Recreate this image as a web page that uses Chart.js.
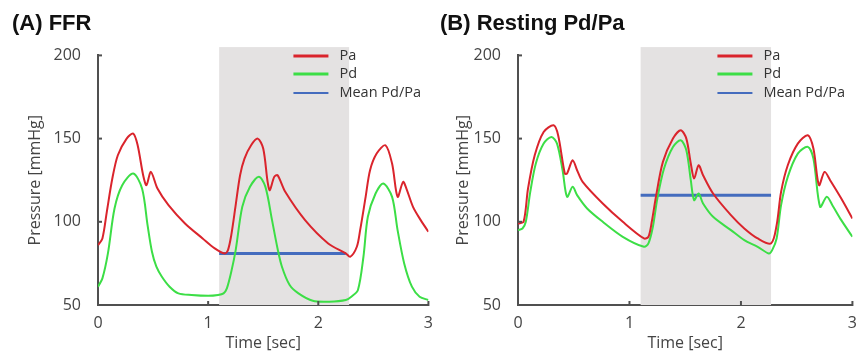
<!DOCTYPE html>
<html>
<head>
<meta charset="utf-8">
<script src="https://cdn.jsdelivr.net/npm/chart.js@4"></script>
<style>
  body { margin: 0; background: #fff; }
  .box { position: absolute; top: 0; height: 357px; }
  #boxA { left: 0; width: 442px; }
  #boxB { left: 430px; width: 436px; }
</style>
</head>
<body>
<div class="box" id="boxA"><canvas id="chartA"></canvas></div>
<div class="box" id="boxB"><canvas id="chartB"></canvas></div>
<script>
// (A) FFR - time [sec] and pressure [mmHg]
const timePaA = [0, 0.04, 0.08, 0.13, 0.18, 0.26, 0.32, 0.36, 0.41, 0.44, 0.48, 0.54, 0.64, 0.79, 0.95, 1.06, 1.15, 1.18, 1.21, 1.25, 1.29, 1.33, 1.39, 1.45, 1.50, 1.54, 1.56, 1.60, 1.63, 1.70, 1.88, 2.09, 2.25, 2.29, 2.35, 2.38, 2.43, 2.47, 2.53, 2.61, 2.67, 2.72, 2.77, 2.80, 2.86, 2.93, 3.00];
const paA = [86, 90, 106, 126, 140, 150, 153, 146, 128, 122, 130, 120, 110, 99, 90, 84, 81, 83, 92, 110, 128, 138, 146, 150, 144, 124, 119, 127, 128, 118, 101, 87, 81, 79, 85, 95, 115, 131, 141, 146, 135, 115, 124, 120, 109, 101, 94];
const timePdA = [0, 0.04, 0.09, 0.15, 0.22, 0.32, 0.40, 0.45, 0.49, 0.53, 0.58, 0.65, 0.73, 0.85, 1.00, 1.09, 1.14, 1.17, 1.21, 1.25, 1.31, 1.38, 1.46, 1.52, 1.58, 1.63, 1.67, 1.74, 1.82, 1.95, 2.10, 2.25, 2.30, 2.36, 2.41, 2.45, 2.52, 2.59, 2.67, 2.72, 2.78, 2.85, 2.92, 3.00];
const pdA = [61, 66, 81, 108, 122, 129, 120, 98, 82, 73, 67, 61, 57, 56, 55.5, 56, 57, 60, 70, 83, 109, 121, 127, 121, 101, 84, 73, 62, 57, 52.5, 52, 53, 55, 59, 79, 103, 117, 123, 115, 95, 75, 61, 55, 53];
const meanTimeA = [1.1, 2.25];
const meanA = [81, 81];
const shadeA = [1.1, 2.28];

// (B) Resting Pd/Pa
const timePaB = [0, 0.05, 0.09, 0.15, 0.23, 0.32, 0.36, 0.42, 0.44, 0.49, 0.53, 0.58, 0.76, 0.94, 1.13, 1.17, 1.20, 1.24, 1.30, 1.39, 1.46, 1.51, 1.55, 1.58, 1.62, 1.66, 1.75, 1.91, 2.03, 2.15, 2.27, 2.32, 2.36, 2.42, 2.51, 2.60, 2.65, 2.70, 2.75, 2.80, 2.90, 3.00];
const paB = [99, 100, 120, 140, 154, 158, 152, 129, 129, 137, 131, 124, 111, 100, 90, 91, 100, 116, 136, 150, 155, 150, 135, 126, 134, 128, 117, 104, 96, 90, 87, 98, 118, 134, 147, 152, 144, 122, 130, 125, 114, 102];
const timePdB = [0, 0.04, 0.07, 0.11, 0.16, 0.23, 0.30, 0.35, 0.40, 0.44, 0.49, 0.53, 0.62, 0.76, 0.94, 1.13, 1.17, 1.21, 1.25, 1.31, 1.39, 1.46, 1.51, 1.55, 1.58, 1.62, 1.66, 1.75, 1.91, 2.03, 2.15, 2.25, 2.28, 2.32, 2.36, 2.42, 2.51, 2.60, 2.65, 2.71, 2.77, 2.82, 2.90, 3.00];
const pdB = [95, 96, 100, 118, 135, 147, 151, 147, 131, 115, 121, 116, 108, 100, 91, 85, 87, 97, 114, 132, 145, 149, 143, 125, 113, 117, 111, 103, 95, 89, 85, 81, 83, 90, 110, 127, 141, 145, 138, 109, 115, 110, 101, 91];
const meanTimeB = [1.1, 2.27];
const meanB = [116, 116];
const shadeB = [1.1, 2.27];

const yTicks = [50, 100, 150, 200];
const xTicks = [0, 1, 2, 3];
const labels = ["Pa", "Pd", "Mean Pd/Pa"];

const RED = "rgb(218,36,44)";
const GREEN = "rgb(60,222,70)";
const BLUE = "rgb(68,108,190)";
const AXIS = "#505050";
const TXT = "#444";

function pts(xs, ys) {
  return xs.map((x, i) => ({ x: x, y: ys[i] }));
}

// grey band behind the lines
const shadePlugin = {
  id: "shade",
  beforeDatasetsDraw(chart, args, opts) {
    const { ctx, scales } = chart;
    const x0 = scales.x.getPixelForValue(opts.from);
    const x1 = scales.x.getPixelForValue(opts.to);
    const y0 = scales.y.getPixelForValue(205);
    const y1 = scales.y.getPixelForValue(50);
    ctx.save();
    ctx.fillStyle = "#e4e2e2";
    ctx.fillRect(x0, y0, x1 - x0, y1 - y0);
    ctx.restore();
  },
};

// little inward ticks + legend
const extrasPlugin = {
  id: "extras",
  afterDraw(chart) {
    const { ctx, scales, chartArea } = chart;
    ctx.save();
    ctx.strokeStyle = AXIS;
    ctx.lineWidth = 2;
    yTicks.forEach((v) => {
      const y = scales.y.getPixelForValue(v);
      ctx.beginPath();
      ctx.moveTo(chartArea.left - 1, y);
      ctx.lineTo(chartArea.left + 4, y);
      ctx.stroke();
    });
    xTicks.forEach((v) => {
      const x = scales.x.getPixelForValue(v);
      ctx.beginPath();
      ctx.moveTo(x, chartArea.bottom + 1);
      ctx.lineTo(x, chartArea.bottom - 4);
      ctx.stroke();
    });

    // legend
    const lx = chartArea.right - 135;
    const rows = [56, 74, 93];
    ctx.font = "14.5px 'Open Sans'";
    ctx.textBaseline = "middle";
    chart.data.datasets.forEach((ds, i) => {
      ctx.strokeStyle = ds.borderColor;
      ctx.lineWidth = i == 2 ? 2 : 3;
      ctx.beginPath();
      ctx.moveTo(lx, rows[i]);
      ctx.lineTo(lx + 35, rows[i]);
      ctx.stroke();
      ctx.fillStyle = "#333";
      ctx.fillText(ds.label, lx + 46, rows[i]);
    });
    ctx.restore();
  },
};

function makeChart(id, title, padLeft, axisW, padRight, pa, pd, mean, shade) {
  const ctx = document.getElementById(id).getContext("2d");
  return new Chart(ctx, {
    type: "line",
    data: {
      datasets: [
        { label: labels[0], data: pa, borderColor: RED, borderWidth: 2, pointRadius: 0, tension: 0.3 },
        { label: labels[1], data: pd, borderColor: GREEN, borderWidth: 2, pointRadius: 0, tension: 0.3 },
        { label: labels[2], data: mean, borderColor: BLUE, borderWidth: 3, pointRadius: 0 },
      ],
    },
    options: {
      responsive: true,
      maintainAspectRatio: false,
      animation: false,
      layout: { padding: { left: padLeft, right: padRight, top: 0, bottom: 0 } },
      plugins: {
        legend: { display: false },
        tooltip: { enabled: false },
        title: {
          display: true,
          text: title,
          align: "start",
          color: "#111",
          font: { family: "Arial", size: 22, weight: "bold" },
          padding: { top: 11, bottom: 18 },
        },
        shade: { from: shade[0], to: shade[1] },
      },
      scales: {
        x: {
          type: "linear",
          min: 0,
          max: 3,
          afterFit: (s) => { s.height = 52; },
          afterBuildTicks: (s) => { s.ticks = xTicks.map((v) => ({ value: v })); },
          grid: { display: false, drawTicks: false },
          border: { display: true, color: AXIS, width: 2 },
          ticks: { color: TXT, padding: 9, font: { family: "Open Sans", size: 16 } },
          title: { display: true, text: "Time [sec]", color: TXT, padding: { top: 2 }, font: { family: "Open Sans", size: 16 } },
        },
        y: {
          min: 50,
          max: 200,
          afterFit: (s) => { s.width = axisW; },
          afterBuildTicks: (s) => { s.ticks = yTicks.map((v) => ({ value: v })); },
          grid: { display: false, drawTicks: false },
          border: { display: true, color: AXIS, width: 2 },
          ticks: { color: TXT, padding: 17, font: { family: "Open Sans", size: 16 } },
          title: { display: true, text: "Pressure [mmHg]", color: TXT, padding: { top: 14 }, font: { family: "Open Sans", size: 16 } },
        },
      },
    },
    plugins: [shadePlugin, extrasPlugin],
  });
}

makeChart("chartA", "(A) FFR", 12, 86, 2, pts(timePaA, paA), pts(timePdA, pdA), pts(meanTimeA, meanA), shadeA);
makeChart("chartB", "(B) Resting Pd/Pa", 10, 78, 8, pts(timePaB, paB), pts(timePdB, pdB), pts(meanTimeB, meanB), shadeB);
</script>
</body>
</html>
